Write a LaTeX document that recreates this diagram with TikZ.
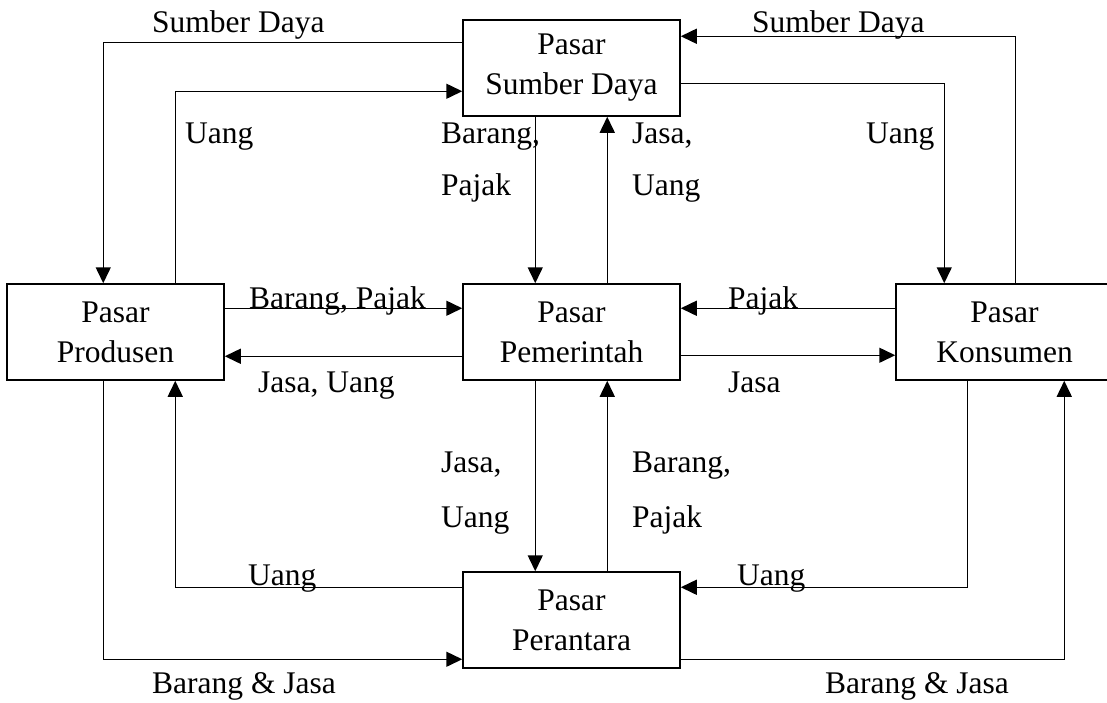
\documentclass[tikz,border=0pt]{standalone}
\usepackage{fontspec}
\setmainfont{Liberation Serif}
\usetikzlibrary{arrows.meta,calc}

\begin{document}
\begin{tikzpicture}[x=1pt,y=-1pt,
  every node/.style={font=\fontsize{31.5}{40}\selectfont},
  market/.style={draw,line width=1.5pt,minimum width=217pt,minimum height=96pt,
    inner sep=0pt,align=center},
  flow/.style={line width=1.5pt,-{Triangle[length=16pt,width=15pt]}},
  lbl/.style={anchor=base west,inner sep=0pt}]
\useasboundingbox (0,0) rectangle (1107,702);

% the five markets
\node[market] (sd)   at (571.5,68)  {Pasar\\Sumber Daya};
\node[market] (prod) at (115.5,332) {Pasar\\Produsen};
\node[market] (pem)  at (571.5,332) {Pasar\\Pemerintah};
\node[market] (kon)  at (1004.5,332) {Pasar\\Konsumen};
\node[market] (per)  at (571.5,620) {Pasar\\Perantara};

% flows around the resource market
\draw[flow] ($(sd.north west)+(0,23)$) -| ($(prod.north west)+(97,0)$);
\draw[flow] ($(prod.north west)+(169,0)$) |- ($(sd.north west)+(0,72)$);
\draw[flow] ($(kon.north west)+(120,0)$) |- ($(sd.north east)+(0,17)$);
\draw[flow] ($(sd.north east)+(0,64)$) -| ($(kon.north west)+(49,0)$);
\draw[flow] ($(sd.south west)+(73,0)$) -- ($(pem.north west)+(73,0)$);
\draw[flow] ($(pem.north west)+(145,0)$) -- ($(sd.south west)+(145,0)$);

% flows between government and the other markets
\draw[flow] ($(prod.north east)+(0,25)$) -- ($(pem.north west)+(0,25)$);
\draw[flow] ($(pem.north west)+(0,73)$) -- ($(prod.north east)+(0,73)$);
\draw[flow] ($(kon.north west)+(0,25)$) -- ($(pem.north east)+(0,25)$);
\draw[flow] ($(pem.north east)+(0,72)$) -- ($(kon.north west)+(0,72)$);
\draw[flow] ($(pem.south west)+(73,0)$) -- ($(per.north west)+(73,0)$);
\draw[flow] ($(per.north west)+(145,0)$) -- ($(pem.south west)+(145,0)$);

% flows around the intermediary market
\draw[flow] ($(per.north west)+(0,16)$) -| ($(prod.south west)+(169,0)$);
\draw[flow] ($(prod.south west)+(97,0)$) |- ($(per.north west)+(0,88)$);
\draw[flow] ($(kon.south west)+(72,0)$) |- ($(per.north east)+(0,16)$);
\draw[flow] ($(per.north east)+(0,88)$) -| ($(kon.south west)+(169,0)$);

% labels
\node[lbl] (l1)  at (152,32)  {Sumber Daya};
\node[lbl] (l2)  at (752,32)  {Sumber Daya};
\node[lbl] (l3)  at (185,143) {Uang};
\node[lbl] (l4)  at (866,143) {Uang};
\node[lbl] (l5)  at (441,143) {Barang,};
\node[lbl] (l6)  at (441,195) {Pajak};
\node[lbl] (l7)  at (632,143) {Jasa,};
\node[lbl] (l8)  at (632,195) {Uang};
\node[lbl] (l9)  at (249,308) {Barang, Pajak};
\node[lbl] (l10) at (728,308) {Pajak};
\node[lbl] (l11) at (258,392) {Jasa, Uang};
\node[lbl] (l12) at (728,392) {Jasa};
\node[lbl] (l13) at (441,472) {Jasa,};
\node[lbl] (l14) at (441,527) {Uang};
\node[lbl] (l15) at (632,472) {Barang,};
\node[lbl] (l16) at (632,527) {Pajak};
\node[lbl] (l17) at (248,585) {Uang};
\node[lbl] (l18) at (737,585) {Uang};
\node[lbl] (l19) at (152,693) {Barang \& Jasa};
\node[lbl] (l20) at (825,693) {Barang \& Jasa};
\end{tikzpicture}
\end{document}
